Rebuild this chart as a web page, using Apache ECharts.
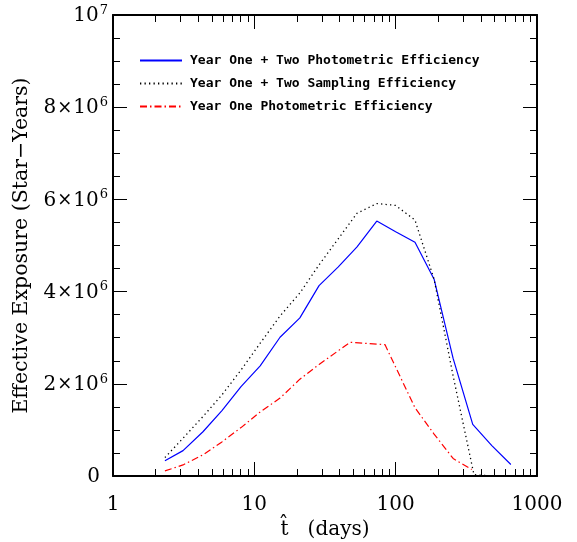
<!DOCTYPE html>
<html>
<head>
<meta charset="utf-8">
<script src="https://cdn.jsdelivr.net/npm/echarts@6/dist/echarts.min.js"></script>
<style>
html,body{margin:0;padding:0;background:#fff;}
#chart{width:577px;height:542px;}
</style>
</head>
<body>
<div id="chart"></div>
<script>
// ---- data (days, effective exposure in star-years) ----
const seriesNames = [
  'Year One + Two Photometric Efficiency',
  'Year One + Two Sampling Efficiency',
  'Year One Photometric Efficiency'
];
const photoBothDays = [2.33, 3.13, 4.33, 5.9, 8.05, 11.0, 15.2, 21.0, 28.7, 39.1, 53.3, 73.5, 100, 137, 187, 255, 351, 479, 653];
const photoBothVals = [0.33e6, 0.55e6, 0.96e6, 1.42e6, 1.94e6, 2.39e6, 3.01e6, 3.43e6, 4.13e6, 4.53e6, 4.97e6, 5.53e6, 5.30e6, 5.07e6, 4.27e6, 2.55e6, 1.12e6, 0.66e6, 0.25e6];
const samplingDays = [2.33, 3.13, 4.33, 5.9, 8.05, 11.0, 15.2, 21.0, 28.7, 39.1, 53.3, 73.5, 100, 137, 187, 255, 358, 479];
const samplingVals = [0.40e6, 0.82e6, 1.29e6, 1.76e6, 2.30e6, 2.88e6, 3.47e6, 3.97e6, 4.58e6, 5.14e6, 5.70e6, 5.91e6, 5.87e6, 5.55e6, 4.27e6, 2.17e6, 0.03e6, 0];
const photoOneDays = [2.33, 3.13, 4.33, 5.9, 8.05, 11.0, 15.2, 21.0, 28.7, 47.6, 84, 137, 187, 255, 345];
const photoOneVals = [0.11e6, 0.24e6, 0.46e6, 0.74e6, 1.05e6, 1.39e6, 1.69e6, 2.10e6, 2.42e6, 2.90e6, 2.85e6, 1.48e6, 0.91e6, 0.38e6, 0.14e6];

const xTickLabels = ['1', '10', '100', '1000'];
const yTickValues = [0, 2e6, 4e6, 6e6, 8e6, 1e7];
const yTickLabels = ['0', '2×10^6', '4×10^6', '6×10^6', '8×10^6', '10^7'];
const xAxisTitle = 't\u0302   (days)';
const yAxisTitle = 'Effective Exposure (Star\u2212Years)';

function pairs(xs, ys) { return xs.map((x, i) => [x, ys[i]]); }

const serif = 'DejaVu Serif';
const rich = {
  a: {fontFamily: serif, fontSize: 20, color: '#000', lineHeight: 22, verticalAlign: 'bottom'},
  z: {fontFamily: serif, fontSize: 20, color: '#000', lineHeight: 22, verticalAlign: 'bottom', padding: [0, 8, 0, 0]},
  x: {fontFamily: serif, fontSize: 18, color: '#000', lineHeight: 22, verticalAlign: 'bottom', padding: [0, 1, 1, 1]},
  s: {fontFamily: serif, fontSize: 13, color: '#000', lineHeight: 13, verticalAlign: 'top', padding: [0, 0, 0, 1]}
};
function yFmt(v) {
  const i = yTickValues.findIndex(t => Math.abs(t - v) < 1);
  if (i < 0) return '';
  const lab = yTickLabels[i];
  if (lab.indexOf('^') < 0) return '{z|' + lab + '}';
  const [base, exp] = lab.split('^');
  const parts = base.split('×');
  if (parts.length === 2) return '{a|' + parts[0] + '}{x|×}{a|' + parts[1] + '}{s|' + exp + '}';
  return '{a|' + base + '}{s|' + exp + '}';
}
function xFmt(v) {
  const s = String(Math.round(v));
  return xTickLabels.indexOf(s) >= 0 ? s : '';
}

const axisLine = {show: true, onZero: false, lineStyle: {color: '#000', width: 2}};
function xAx(pos, showLabel) {
  return {
    type: 'log', logBase: 10, min: 1, max: 1000, position: pos,
    axisLine: axisLine,
    axisTick: {show: true, inside: true, length: 14, lineStyle: {color: '#000', width: 1}},
    minorTick: {show: true, splitNumber: 9, length: 7, lineStyle: {color: '#000', width: 1}},
    splitLine: {show: false}, minorSplitLine: {show: false},
    axisLabel: {show: showLabel, formatter: xFmt, fontFamily: serif, fontSize: 20, color: '#000', margin: 19},
    name: showLabel ? xAxisTitle : '', nameLocation: 'middle', nameGap: 38,
    nameTextStyle: {fontFamily: serif, fontSize: 20, color: '#000'}
  };
}
function yAx(pos, showLabel) {
  return {
    type: 'value', min: 0, max: 1e7, interval: 2e6, position: pos,
    axisLine: axisLine,
    axisTick: {show: true, inside: true, length: 14, lineStyle: {color: '#000', width: 1}},
    minorTick: {show: true, splitNumber: 4, length: 7, lineStyle: {color: '#000', width: 1}},
    splitLine: {show: false}, minorSplitLine: {show: false},
    axisLabel: {show: showLabel, formatter: yFmt, rich: rich, margin: 5},
    name: showLabel ? yAxisTitle : '', nameLocation: 'middle', nameGap: 67, nameRotate: 90,
    nameTextStyle: {fontFamily: serif, fontSize: 20.5, color: '#000'}
  };
}

const chart = echarts.init(document.getElementById('chart'), null, {renderer: 'canvas'});
chart.setOption({
  animation: false,
  backgroundColor: '#fff',
  grid: {left: 113, right: 40, top: 15, bottom: 66, containLabel: false, outerBoundsMode: 'none'},
  legend: {
    orient: 'vertical', left: 134, top: 49,
    itemWidth: 42, itemHeight: 14, itemGap: 10,
    data: seriesNames,
    itemStyle: {opacity: 0},
    textStyle: {fontFamily: 'DejaVu Sans Mono', fontWeight: 'bold', fontSize: 13, color: '#000', padding: [0, 0, 0, 3]}
  },
  xAxis: [xAx('bottom', true), xAx('top', false)],
  yAxis: [yAx('left', true), yAx('right', false)],
  series: [
    {name: seriesNames[0], type: 'line', symbol: 'none', data: pairs(photoBothDays, photoBothVals),
     lineStyle: {color: '#0000ff', width: 1.2, type: 'solid'}, itemStyle: {color: '#0000ff'}},
    {name: seriesNames[1], type: 'line', symbol: 'none', data: pairs(samplingDays, samplingVals),
     lineStyle: {color: '#000', width: 1.3, type: [1.3, 3.2]}, itemStyle: {color: '#000'}},
    {name: seriesNames[2], type: 'line', symbol: 'none', data: pairs(photoOneDays, photoOneVals),
     lineStyle: {color: '#ff0000', width: 1.2, type: [7, 3, 1.5, 3]}, itemStyle: {color: '#ff0000'}}
  ]
});
</script>
</body>
</html>
